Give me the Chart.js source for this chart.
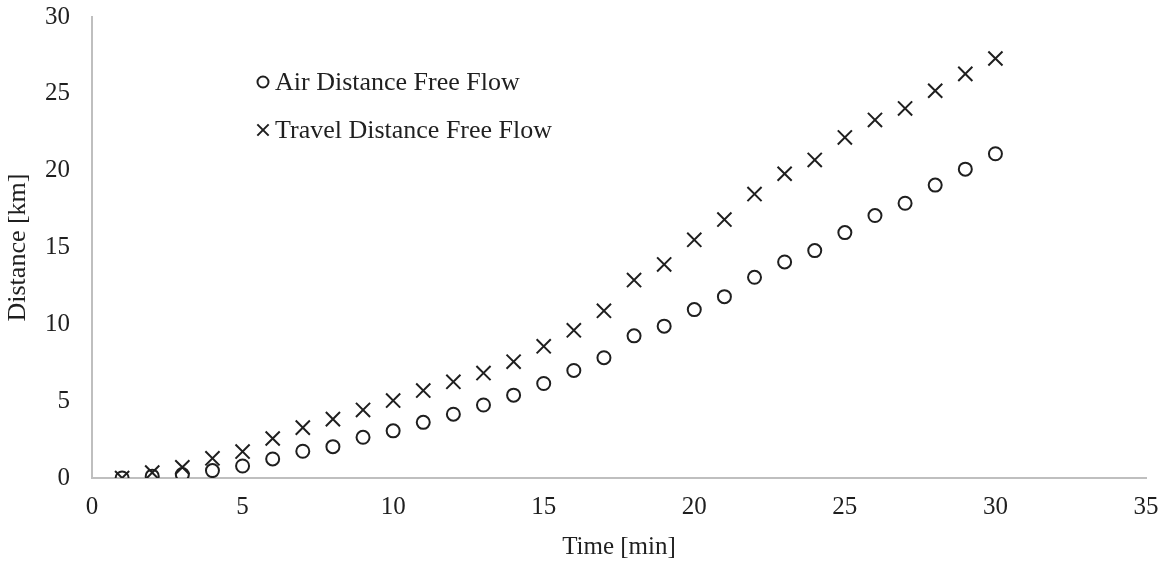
<!DOCTYPE html>
<html>
<head>
<meta charset="utf-8">
<script src="https://cdn.jsdelivr.net/npm/chart.js@4/dist/chart.umd.min.js"></script>
<style>
  html, body { margin: 0; padding: 0; background: #ffffff; }
  #wrap { width: 1167px; height: 565px; position: relative; }
</style>
</head>
<body>
<div id="wrap"><canvas id="chart"></canvas></div>
<script>
// Elapsed time in minutes
const timeMin = [1, 2, 3, 4, 5, 6, 7, 8, 9, 10, 11, 12, 13, 14, 15, 16, 17, 18, 19, 20, 21, 22, 23, 24, 25, 26, 27, 28, 29, 30];

// Straight-line (air) distance under free-flow conditions, km
const airDistance = [0, 0.12, 0.22, 0.48, 0.78, 1.24, 1.74, 2.04, 2.65, 3.07,
  3.62, 4.15, 4.75, 5.39, 6.15, 7.0, 7.83, 9.25, 9.88, 10.96,
  11.8, 13.06, 14.06, 14.8, 15.97, 17.08, 17.88, 19.06, 20.1, 21.1];

// Road (travel) distance under free-flow conditions, km
const travelDistance = [0, 0.35, 0.7, 1.28, 1.72, 2.57, 3.28, 3.83, 4.43, 5.04,
  5.69, 6.26, 6.83, 7.57, 8.57, 9.61, 10.88, 12.88, 13.9, 15.5,
  16.82, 18.48, 19.8, 20.7, 22.16, 23.3, 24.05, 25.2, 26.3, 27.3];

const seriesNames = ['Air Distance Free Flow', 'Travel Distance Free Flow'];
const xTicks = [0, 5, 10, 15, 20, 25, 30, 35];
const yTicks = [0, 5, 10, 15, 20, 25, 30];

const ink = '#1f1f1f';
const axisGrey = '#bfbfbf';
const serif = "'Liberation Serif', 'Times New Roman', serif";

const toPoints = (xs, ys) => xs.map((x, i) => ({ x: x, y: ys[i] }));

// Legend drawn inside the plot area, upper left
const innerLegend = {
  id: 'innerLegend',
  afterDatasetsDraw(chart) {
    const { ctx, chartArea } = chart;
    const rows = [
      { style: 'circle', radius: 5.5, y: 82 },
      { style: 'crossRot', radius: 8, y: 130 }
    ];
    ctx.save();
    ctx.font = '26px ' + serif;
    ctx.textBaseline = 'middle';
    ctx.textAlign = 'left';
    rows.forEach((r, i) => {
      const mx = chartArea.left + 171;
      ctx.strokeStyle = ink;
      ctx.fillStyle = 'rgba(0,0,0,0)';
      ctx.lineWidth = 2;
      Chart.helpers.drawPoint(ctx, { pointStyle: r.style, radius: r.radius, rotation: 0, borderWidth: 2 }, mx, r.y);
      ctx.fillStyle = ink;
      ctx.fillText(seriesNames[i], chartArea.left + 183, r.y + 1);
    });
    ctx.restore();
  }
};

new Chart(document.getElementById('chart'), {
  type: 'scatter',
  data: {
    datasets: [
      {
        label: seriesNames[0],
        data: toPoints(timeMin, airDistance),
        pointStyle: 'circle',
        pointRadius: 6.5,
        pointHoverRadius: 6.5,
        borderWidth: 2,
        borderColor: ink,
        backgroundColor: 'rgba(0,0,0,0)'
      },
      {
        label: seriesNames[1],
        data: toPoints(timeMin, travelDistance),
        pointStyle: 'crossRot',
        pointRadius: 10,
        pointHoverRadius: 10,
        borderWidth: 2,
        borderColor: ink,
        backgroundColor: ink
      }
    ]
  },
  options: {
    responsive: true,
    maintainAspectRatio: false,
    animation: false,
    devicePixelRatio: 1,
    layout: { padding: { left: 0, right: 21, top: 17, bottom: 0 } },
    plugins: {
      legend: { display: false },
      tooltip: { enabled: false }
    },
    scales: {
      x: {
        type: 'linear',
        min: xTicks[0],
        max: xTicks[xTicks.length - 1],
        afterBuildTicks(scale) { scale.ticks = xTicks.map(v => ({ value: v })); },
        afterFit(scale) {
          scale.height = 87;
          scale.paddingLeft = 0;
          scale.paddingRight = 0;
        },
        grid: { display: false, drawTicks: false },
        border: { display: true, color: axisGrey, width: 2 },
        ticks: {
          color: ink,
          font: { family: serif, size: 25 },
          padding: 14,
          maxRotation: 0
        },
        title: {
          display: true,
          text: 'Time [min]',
          color: ink,
          font: { family: serif, size: 25 },
          padding: { top: 0, bottom: 3 }
        }
      },
      y: {
        type: 'linear',
        min: yTicks[0],
        max: yTicks[yTicks.length - 1],
        afterBuildTicks(scale) { scale.ticks = yTicks.map(v => ({ value: v })); },
        afterFit(scale) {
          scale.width = 92;
          scale.paddingTop = 0;
          scale.paddingBottom = 0;
        },
        grid: { display: false, drawTicks: false },
        border: { display: true, color: axisGrey, width: 2 },
        ticks: {
          color: ink,
          font: { family: serif, size: 25 },
          padding: 22
        },
        title: {
          display: true,
          text: 'Distance [km]',
          color: ink,
          font: { family: serif, size: 26 },
          padding: { top: 3, bottom: 0 }
        }
      }
    }
  },
  plugins: [innerLegend]
});
</script>
</body>
</html>
